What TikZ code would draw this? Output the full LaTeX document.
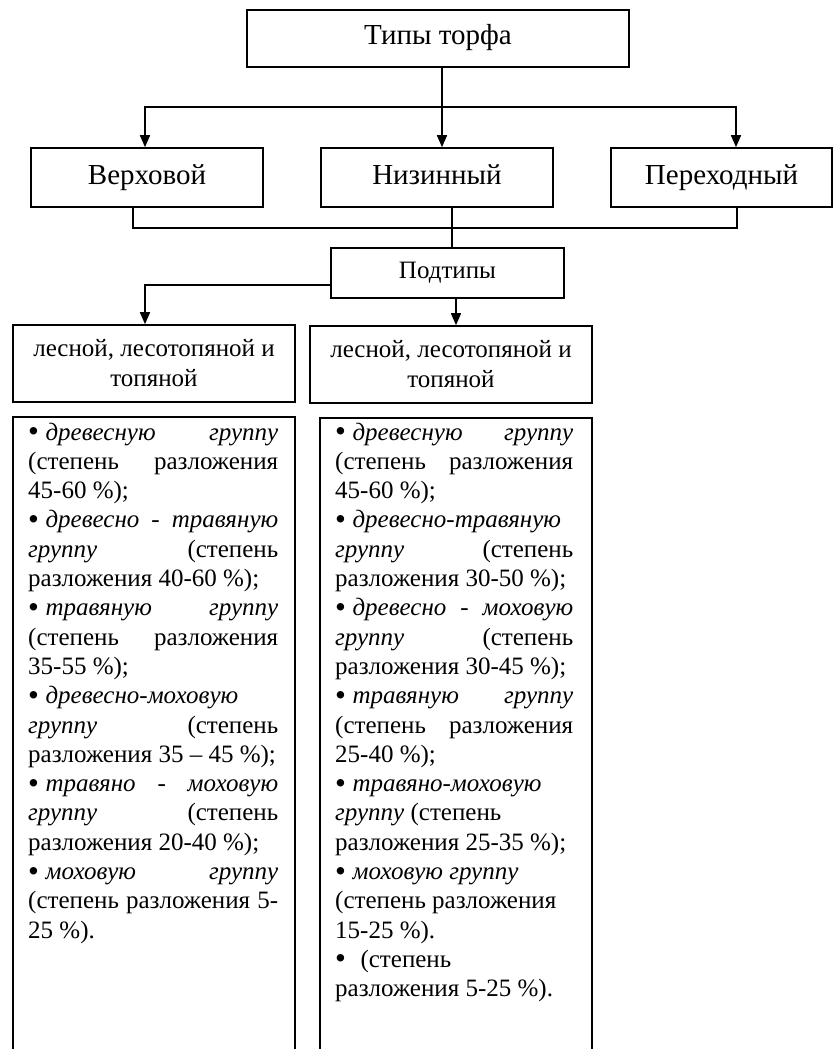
\documentclass[tikz,border=0pt]{standalone}
\usepackage{fontspec}
\setmainfont{Liberation Serif}
\usetikzlibrary{arrows.meta}
\newcommand\Jline[1]{\hbox to\hsize{#1}}
\newcommand\Lline[1]{\hbox to\hsize{#1\hfill}}
\newcommand\gapw{\hskip 0.25em plus 1fil minus 0.1em\relax}
\newcommand\bulletmark{\lower1.5pt\hbox{\fontsize{31}{31}\selectfont •}\kern6.5pt}
\newcommand\colset{\fontsize{25}{29.3}\selectfont\baselineskip=29.3pt\lineskiplimit=-100pt\relax}
\begin{document}
\begin{tikzpicture}[x=1pt,y=-1pt,
  box/.style={draw, line width=1.6pt, inner sep=0pt, align=center, font=\fontsize{25}{30}\selectfont},
  big/.style={font=\fontsize{29}{34}\selectfont, text height=20pt, text depth=7pt},
  oneline/.style={text height=17pt, text depth=6pt},
  arr/.style={line width=1.6pt, -{Triangle[length=12pt,width=10pt]}},
  ln/.style={line width=1.6pt},
  coltext/.style={anchor=base west, inner sep=0pt}]
\useasboundingbox (0,0) rectangle (834,1049);
% level 1
\node[box, big, minimum width=382pt, minimum height=57pt] (top) at (438,38.5) {Типы торфа};
% level 2
\node[box, big, minimum width=232pt, minimum height=59pt] (verh) at (147,177.5) {Верховой};
\node[box, big, minimum width=232pt, minimum height=59pt] (niz) at (437,177.5) {Низинный};
\node[box, big, minimum width=221pt, minimum height=59pt] (per) at (721.5,177.5) {Переходный};
% subtypes
\node[box, oneline, minimum width=233pt, minimum height=50pt] (pod) at (447.5,273) {Подтипы};
% level 3
\node[box, minimum width=282pt, minimum height=77pt] (s1) at (154,363.5) {лесной, лесотопяной и\\топяной};
\node[box, minimum width=282pt, minimum height=77pt] (s2) at (451,364.5) {лесной, лесотопяной и\\топяной};
% bottom open boxes
\node[inner sep=0pt, minimum width=282pt, minimum height=632pt] (b1) at (154,733) {};
\node[inner sep=0pt, minimum width=272pt, minimum height=631pt] (b2) at (456,733.5) {};
\draw[ln] (b1.south west) -- (b1.north west) -- (b1.north east) -- (b1.south east);
\draw[ln] (b2.south west) -- (b2.north west) -- (b2.north east) -- (b2.south east);
% connectors
\coordinate (hub) at (442,107);
\coordinate (bus) at (452,228);
\draw[ln] ([xshift=4pt]top.south) -- (hub);
\draw[arr] (hub) -- ([xshift=5pt]niz.north);
\draw[arr] (hub) -| ([xshift=-2pt]verh.north);
\draw[arr] (hub) -| ([xshift=14.5pt]per.north);
\draw[ln] ([xshift=-14pt]verh.south) |- (bus);
\draw[ln] ([xshift=15.5pt]per.south) |- (bus);
\draw[ln] ([xshift=15pt]niz.south) -- ([xshift=4.5pt]pod.north);
\draw[arr] ([yshift=-12pt]pod.west) -| ([xshift=-9pt]s1.north);
\draw[arr] ([xshift=8.5pt]pod.south) -- ([xshift=5pt]s2.north);
% column texts
\node[coltext] (t1) at (28,440) {\vtop{\hsize=250pt\colset
\Jline{\bulletmark\textit{древесную}\gapw\textit{группу}}
\Jline{(степень\gapw разложения}
\Lline{45-60 \%);}
\Jline{\bulletmark\textit{древесно}\gapw\textit{-}\gapw\textit{травяную}}
\Jline{\textit{группу}\gapw(степень}
\Lline{разложения 40-60 \%);}
\Jline{\bulletmark\textit{травяную}\gapw\textit{группу}}
\Jline{(степень\gapw разложения}
\Lline{35-55 \%);}
\Lline{\bulletmark\textit{древесно-моховую}}
\Jline{\textit{группу}\gapw(степень}
\Lline{разложения 35 – 45 \%);}
\Jline{\bulletmark\textit{травяно}\gapw\textit{-}\gapw\textit{моховую}}
\Jline{\textit{группу}\gapw(степень}
\Lline{разложения 20-40 \%);}
\Jline{\bulletmark\textit{моховую}\gapw\textit{группу}}
\Jline{(степень\gapw разложения\gapw 5-}
\Lline{25 \%).}
}};
\node[coltext] (t2) at (335,440) {\vtop{\hsize=238pt\colset
\Jline{\bulletmark\textit{древесную}\gapw\textit{группу}}
\Jline{(степень\gapw разложения}
\Lline{45-60 \%);}
\Lline{\bulletmark\textit{древесно-травяную}}
\Jline{\textit{группу}\gapw(степень}
\Lline{разложения 30-50 \%);}
\Jline{\bulletmark\textit{древесно}\gapw\textit{-}\gapw\textit{моховую}}
\Jline{\textit{группу}\gapw(степень}
\Lline{разложения 30-45 \%);}
\Jline{\bulletmark\textit{травяную}\gapw\textit{группу}}
\Jline{(степень\gapw разложения}
\Lline{25-40 \%);}
\Lline{\bulletmark\textit{травяно-моховую}}
\Lline{\textit{группу} (степень}
\Lline{разложения 25-35 \%);}
\Lline{\bulletmark\textit{моховую группу}}
\Lline{(степень разложения}
\Lline{15-25 \%).}
\Lline{\bulletmark\kern8pt(степень}
\Lline{разложения 5-25 \%).}
}};
\end{tikzpicture}
\end{document}
